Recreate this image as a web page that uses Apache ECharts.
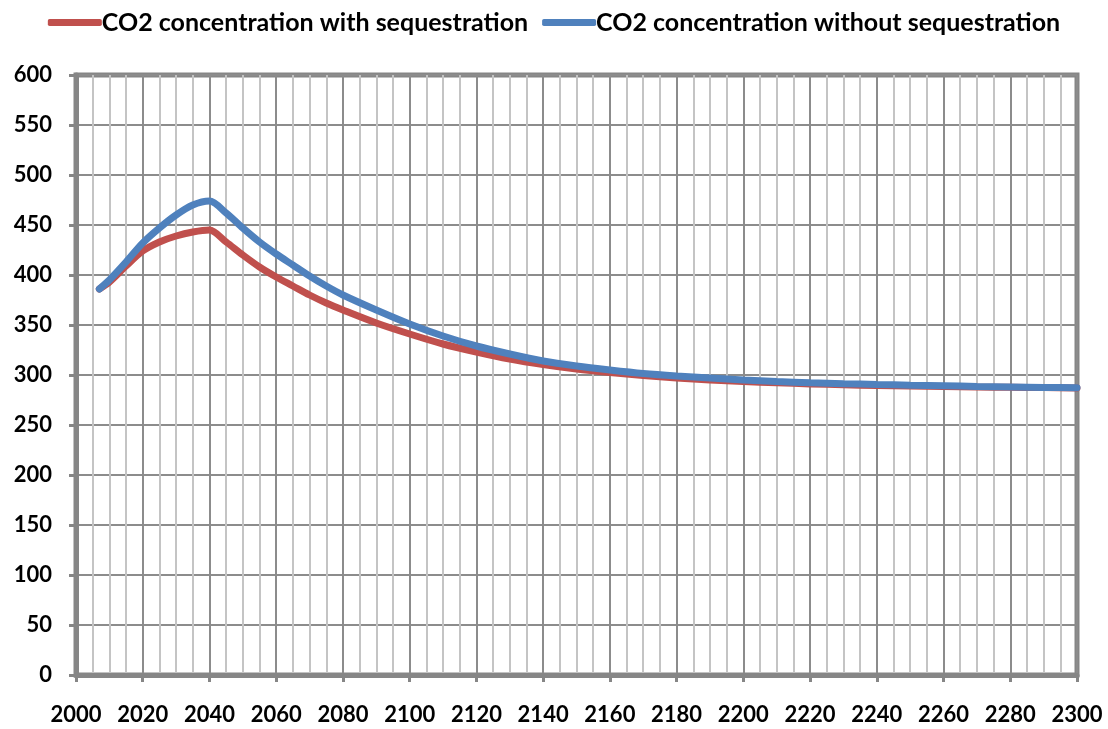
<!DOCTYPE html>
<html>
<head>
<meta charset="utf-8">
<script src="https://cdn.jsdelivr.net/npm/echarts@6/dist/echarts.min.js"></script>
<style>
  html, body { margin: 0; padding: 0; background: #fff; }
  #main { width: 1108px; height: 729px; }
</style>
</head>
<body>
<div id="main"></div>
<script>
// years of the model run
var years = [2007, 2010, 2015, 2020, 2025, 2030, 2035, 2040, 2045, 2050, 2055, 2060,
  2065, 2070, 2075, 2080, 2090, 2100, 2110, 2120, 2130, 2140, 2150, 2160, 2170, 2180,
  2190, 2200, 2210, 2220, 2230, 2240, 2250, 2260, 2270, 2280, 2290, 2300];

// ppm
var withSeq = [386, 393, 409, 424, 433, 439, 443, 445, 433, 420, 408, 398,
  389, 380, 372, 365, 352, 341, 331, 323, 316, 310.5, 306, 302.5, 299.5, 297,
  295, 293.5, 292.2, 291.1, 290.2, 289.5, 288.9, 288.4, 288, 287.7, 287.4, 287.1];
var withoutSeq = [386, 395, 413, 432, 447, 460, 470, 474, 462, 447, 433, 421,
  410, 399, 389, 380, 365, 351, 339, 329, 321, 314, 309, 305, 301.5, 299,
  297, 295, 293.5, 292.3, 291.3, 290.5, 289.8, 289.2, 288.6, 288.1, 287.6, 287.2];

var seriesNames = ['CO2 concentration with sequestration', 'CO2 concentration without sequestration'];

function pairs(vals) {
  return years.map(function (y, i) { return [y, vals[i]]; });
}

var axisGray = '#868686';
var font = 'Lato, "Open Sans", sans-serif';

var myChart = echarts.init(document.getElementById('main'));
myChart.setOption({
  animation: false,
  legend: {
    top: 5,
    left: 'center',
    itemWidth: 54,
    itemHeight: 7,
    itemGap: 14,
    icon: 'roundRect',
    textStyle: { fontFamily: font, fontWeight: 'bold', fontSize: 25, color: '#000', padding: [0, 0, 0, -5] },
    data: seriesNames
  },
  grid: {
    left: 76, right: 31, top: 75, bottom: 54,
    show: true,
    borderColor: axisGray,
    borderWidth: 5
  },
  xAxis: {
    type: 'value',
    min: 2000, max: 2300, interval: 20,
    axisLine: { lineStyle: { color: axisGray, width: 5 } },
    axisTick: { length: 7, lineStyle: { color: axisGray, width: 3 } },
    axisLabel: {
      margin: 29, fontFamily: font, fontWeight: 'bold', fontSize: 22, color: '#000',
      formatter: function (v) { return String(v); }
    },
    splitLine: { lineStyle: { color: '#8c8c8c', width: 2 } },
    minorTick: { show: false, splitNumber: 4 },
    minorSplitLine: { show: true, lineStyle: { color: '#c4c4c4', width: 2 } }
  },
  yAxis: {
    type: 'value',
    min: 0, max: 600, interval: 50,
    axisLine: { show: true, lineStyle: { color: axisGray, width: 5 } },
    axisTick: { show: true, length: 7, lineStyle: { color: axisGray, width: 3 } },
    axisLabel: { margin: 24, fontFamily: font, fontWeight: 'bold', fontSize: 22, color: '#000' },
    splitLine: { lineStyle: { color: '#8c8c8c', width: 2 } }
  },
  series: [
    {
      name: seriesNames[0],
      type: 'line',
      data: pairs(withSeq),
      smooth: 0.3,
      showSymbol: false,
      lineStyle: { color: '#C0504D', width: 7, cap: 'round' },
      itemStyle: { color: '#C0504D' }
    },
    {
      name: seriesNames[1],
      type: 'line',
      data: pairs(withoutSeq),
      smooth: 0.3,
      showSymbol: false,
      lineStyle: { color: '#4F81BD', width: 7, cap: 'round' },
      itemStyle: { color: '#4F81BD' }
    }
  ]
});
</script>
</body>
</html>
